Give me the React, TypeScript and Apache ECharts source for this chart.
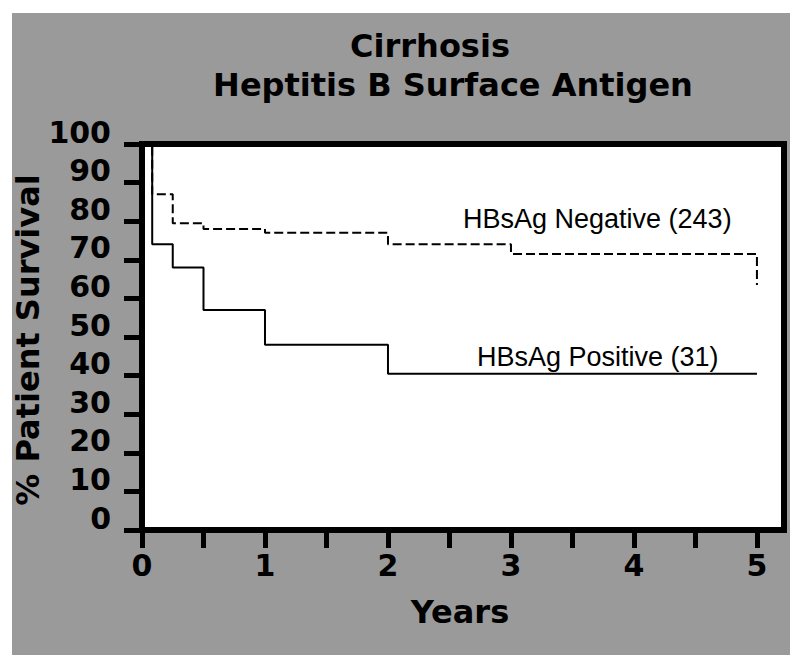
import React, { useEffect, useRef } from "react";
import * as echarts from "echarts";

const titleLines = ["Cirrhosis", "Heptitis B Surface Antigen"];
const xTitle = "Years";
const yTitle = "% Patient Survival";

const negName = "HBsAg Negative (243)";
const negYears = [0, 0.083, 0.25, 0.5, 1, 2, 3, 5];
const negSurvival = [100, 87, 79.5, 78, 77, 74, 71.5, 63.5];

const posName = "HBsAg Positive (31)";
const posYears = [0, 0.083, 0.25, 0.5, 1, 2, 5];
const posSurvival = [100, 74, 68, 57, 48, 40.5, 40.5];

const xTickValues = [0, 0.5, 1, 1.5, 2, 2.5, 3, 3.5, 4, 4.5, 5];
const xLabelValues = [0, 1, 2, 3, 4, 5];

const BOLD = "DejaVu Sans";
const REG = "Liberation Sans";

export default function App() {
  const ref = useRef<HTMLDivElement>(null);
  useEffect(() => {
    if (!ref.current) return;
    const chart = echarts.init(ref.current, null, { renderer: "svg" });
    const negData = negYears.map((x, i) => [x, negSurvival[i]]);
    const posData = posYears.map((x, i) => [x, posSurvival[i]]);
    chart.setOption({
      animation: false,
      backgroundColor: "#ffffff",
      grid: {
        show: true,
        left: 142,
        top: 144,
        width: 642,
        height: 386,
        backgroundColor: "#ffffff",
        borderColor: "#000",
        borderWidth: 6,
      },
      xAxis: {
        type: "value",
        min: 0,
        max: 5.22,
        interval: 0.5,
        splitLine: { show: false },
        axisLine: { show: true, lineStyle: { color: "#000", width: 6 } },
        axisTick: {
          show: true,
          length: 18,
          customValues: xTickValues,
          lineStyle: { color: "#000", width: 5 },
        },
        axisLabel: {
          customValues: xLabelValues,
          fontFamily: BOLD,
          fontWeight: "bold",
          fontSize: 30,
          color: "#000",
          margin: 20,
        },
      },
      yAxis: {
        type: "value",
        min: 0,
        max: 100,
        interval: 10,
        splitLine: { show: false },
        axisLine: { show: true, lineStyle: { color: "#000", width: 6 } },
        axisTick: { show: true, length: 18, lineStyle: { color: "#000", width: 5 } },
        axisLabel: {
          fontFamily: BOLD,
          fontWeight: "bold",
          fontSize: 30,
          color: "#000",
          margin: 31,
          verticalAlign: "bottom",
          lineHeight: 24,
        },
      },
      series: [
        {
          name: negName,
          type: "line",
          step: "end",
          data: negData,
          showSymbol: false,
          lineStyle: { color: "#000", width: 2, type: [9, 4] },
        },
        {
          name: posName,
          type: "line",
          step: "end",
          data: posData,
          showSymbol: false,
          lineStyle: { color: "#000", width: 2 },
        },
      ],
      graphic: [
        {
          type: "rect",
          z: -100,
          shape: { x: 12, y: 13, width: 778, height: 642 },
          style: { fill: "#9a9a9a" },
        },
        {
          type: "text",
          z: 100,
          x: 430,
          y: 46,
          style: {
            text: titleLines[0],
            font: `bold 32px "${BOLD}"`,
            fill: "#000",
            align: "center",
            verticalAlign: "middle",
          },
        },
        {
          type: "text",
          z: 100,
          x: 453,
          y: 85,
          style: {
            text: titleLines[1],
            font: `bold 32px "${BOLD}"`,
            fill: "#000",
            align: "center",
            verticalAlign: "middle",
          },
        },
        {
          type: "text",
          z: 100,
          x: 460,
          y: 612,
          style: {
            text: xTitle,
            font: `bold 32px "${BOLD}"`,
            fill: "#000",
            align: "center",
            verticalAlign: "middle",
          },
        },
        {
          type: "text",
          z: 100,
          x: 28,
          y: 340,
          rotation: Math.PI / 2,
          style: {
            text: yTitle,
            font: `bold 32px "${BOLD}"`,
            fill: "#000",
            align: "center",
            verticalAlign: "middle",
          },
        },
        {
          type: "text",
          z: 100,
          x: 463,
          y: 219,
          style: {
            text: negName,
            font: `27px "${REG}"`,
            fill: "#000",
            align: "left",
            verticalAlign: "middle",
          },
        },
        {
          type: "text",
          z: 100,
          x: 477,
          y: 357,
          style: {
            text: posName,
            font: `27px "${REG}"`,
            fill: "#000",
            align: "left",
            verticalAlign: "middle",
          },
        },
      ],
    });
    return () => chart.dispose();
  }, []);
  return (
    <div
      ref={ref}
      style={{ position: "absolute", left: 0, top: 0, width: 798, height: 666 }}
    />
  );
}
